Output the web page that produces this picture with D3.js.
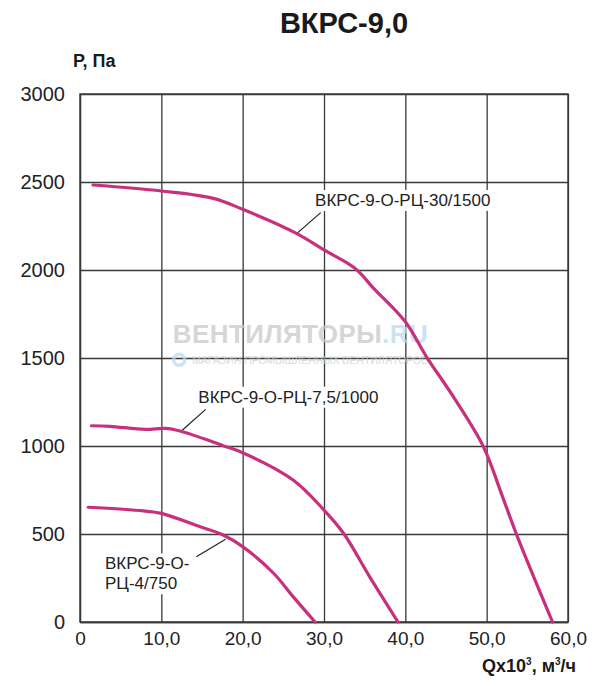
<!DOCTYPE html>
<html>
<head>
<meta charset="utf-8">
<script src="https://cdn.jsdelivr.net/npm/d3@7"></script>
<style>
  body { margin: 0; background: #fff; }
  svg { display: block; font-family: "Liberation Sans", Arial, sans-serif; }
  .grid line, .grid path { stroke: #3a3a3a; stroke-width: 1.3; }
  .tick text { fill: #222; }
</style>
</head>
<body>
<svg id="chart" width="600" height="690"></svg>
<script>
// axis ticks
const xTicks = [0, 10, 20, 30, 40, 50, 60];
const xTickLabels = ['0', '10,0', '20,0', '30,0', '40,0', '50,0', '60,0'];
const yTicks = [0, 500, 1000, 1500, 2000, 2500, 3000];
const yTickLabels = ['0', '500', '1000', '1500', '2000', '2500', '3000'];

// ВКРС-9-О-РЦ-30/1500
const q30 = [1.6, 10, 16.4, 20, 26.6, 30, 33.8, 36.1, 40, 42.6, 45.9, 49.6, 51.8, 53.7, 58.1];
const p30 = [2483, 2449, 2407, 2345, 2208, 2114, 2010, 1896, 1706, 1507, 1280, 996, 731, 494, 0];
// ВКРС-9-О-РЦ-7,5/1000
const q75 = [1.4, 3.7, 8.0, 10.5, 12.3, 17.6, 20, 26.2, 30, 32.4, 35.6, 39.1];
const p75 = [1115, 1112, 1094, 1100, 1085, 1002, 962, 807, 636, 504, 258, 0];
// ВКРС-9-О-РЦ-4/750
const q4 = [1.0, 7.8, 10, 14.7, 17.6, 20, 23.8, 26.2, 28.9];
const p4 = [652, 631, 617, 542, 494, 428, 277, 144, 0];

const seriesNames = ['ВКРС-9-О-РЦ-30/1500', 'ВКРС-9-О-РЦ-7,5/1000', 'ВКРС-9-О-РЦ-4/750'];
// label anchor (data units), lines of text, leader line (data units)
const labelQ = [28.9, 14.55, 3.07];
const labelP = [2364, 1246, 299];
const labelLines = [['ВКРС-9-О-РЦ-30/1500'], ['ВКРС-9-О-РЦ-7,5/1000'], ['ВКРС-9-О-', 'РЦ-4/750']];
const leaderFrom = [[29.6, 2326], [15.45, 1208], [17.9, 470]];
const leaderTo = [[26.6, 2205], [12.5, 1087], [14.3, 371]];

const svg = d3.select('#chart');
const margin = {left: 80, right: 32, top: 94, bottom: 68};
const W = 600 - margin.left - margin.right;
const H = 690 - margin.top - margin.bottom;
const curveColor = '#c8307c';

const x = d3.scaleLinear().domain([0, 60]).range([0, W]);
const y = d3.scaleLinear().domain([0, 3000]).range([H, 0]);

const g = svg.append('g').attr('transform', `translate(${margin.left},${margin.top})`);

// grid + axes
const gx = g.append('g').attr('class', 'grid')
    .attr('transform', `translate(0,${H})`)
    .call(d3.axisBottom(x).tickValues(xTicks).tickSize(-H).tickSizeOuter(0)
        .tickFormat((d, i) => xTickLabels[i]));
gx.selectAll('text').attr('dy', '1.05em').style('font-size', '19px');

const gy = g.append('g').attr('class', 'grid')
    .call(d3.axisLeft(y).tickValues(yTicks).tickSize(-W).tickSizeOuter(0)
        .tickFormat((d, i) => yTickLabels[i]));
gy.selectAll('text').attr('x', -15).style('font-size', '20px');

g.append('rect').attr('width', W).attr('height', H)
    .attr('fill', 'none').attr('stroke', '#3a3a3a').attr('stroke-width', 1.4);

// watermark
const wm = g.append('g').attr('opacity', 0.75);
const wmText = wm.append('text')
    .attr('x', x(11.4)).attr('y', y(1587))
    .attr('textLength', 255)
    .style('font-size', '26px').style('font-weight', 'bold').attr('fill', '#c9c9c9');
wmText.append('tspan').text('ВЕНТИЛЯТОРЫ');
wmText.append('tspan').attr('fill', '#b9daf3').text('.RU');
wm.append('circle').attr('cx', x(12.2)).attr('cy', y(1490)).attr('r', 5.5)
    .attr('fill', 'none').attr('stroke', '#b9daf3').attr('stroke-width', 3.5);
wm.append('text').attr('x', x(13.8)).attr('y', y(1467))
    .attr('textLength', 236).attr('lengthAdjust', 'spacingAndGlyphs')
    .style('font-size', '11.5px').attr('fill', '#cfcfcf')
    .text('МАГАЗИН ПРОМЫШЛЕННЫХ ВЕНТИЛЯТОРОВ');

// labels with white background
labelLines.forEach((lines, k) => {
    const lg = g.append('g');
    const bg = lg.append('rect').attr('fill', '#fff');
    const t = lg.append('text')
        .attr('x', x(labelQ[k])).attr('y', y(labelP[k]))
        .style('font-size', '17px').attr('fill', '#222');
    lines.forEach((s, i) => {
        t.append('tspan').attr('x', x(labelQ[k])).attr('dy', i ? '1.17em' : 0).text(s);
    });
    const b = t.node().getBBox();
    bg.attr('x', b.x - 2).attr('y', b.y - 1).attr('width', b.width + 4).attr('height', b.height + 2);
    lg.append('line')
        .attr('x1', x(leaderFrom[k][0])).attr('y1', y(leaderFrom[k][1]))
        .attr('x2', x(leaderTo[k][0])).attr('y2', y(leaderTo[k][1]))
        .attr('stroke', '#222').attr('stroke-width', 1.2);
});

// curves
const line = d3.line().x(d => x(d[0])).y(d => y(d[1])).curve(d3.curveCatmullRom.alpha(0.5));
[[q30, p30], [q75, p75], [q4, p4]].forEach(([qs, ps], k) => {
    g.append('path')
        .datum(qs.map((q, i) => [q, ps[i]]))
        .attr('class', 'curve')
        .attr('fill', 'none')
        .attr('stroke', curveColor)
        .attr('stroke-width', 3.2)
        .attr('stroke-linecap', 'round')
        .attr('d', line)
        .append('title').text(seriesNames[k]);
});

// titles
svg.append('text').attr('x', 344).attr('y', 33).attr('text-anchor', 'middle')
    .style('font-size', '29px').style('font-weight', 'bold').attr('fill', '#1a1a1a')
    .text('ВКРС-9,0');
svg.append('text').attr('x', 73).attr('y', 67)
    .style('font-size', '18px').style('font-weight', 'bold').attr('fill', '#1a1a1a')
    .text('Р, Па');
const xl = svg.append('text').attr('x', 576).attr('y', 672).attr('text-anchor', 'end')
    .style('font-size', '18px').style('font-weight', 'bold').attr('fill', '#1a1a1a');
xl.append('tspan').text('Qx10');
xl.append('tspan').attr('dy', -7).style('font-size', '10px').text('3');
xl.append('tspan').attr('dy', 7).text(', м');
xl.append('tspan').attr('dy', -7).style('font-size', '10px').text('3');
xl.append('tspan').attr('dy', 7).text('/ч');
</script>
</body>
</html>
